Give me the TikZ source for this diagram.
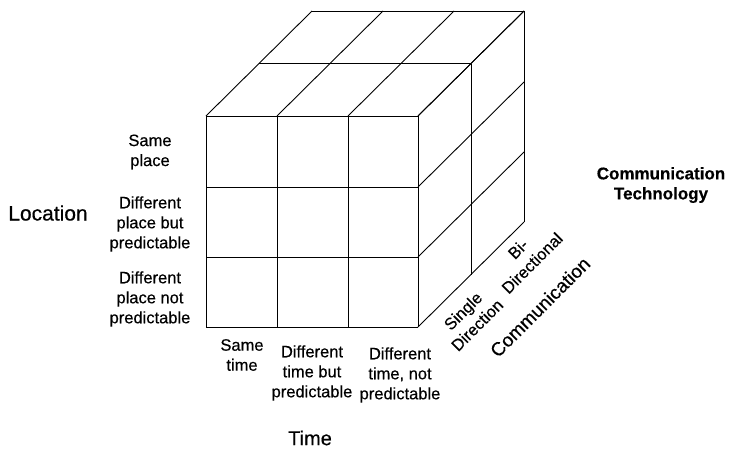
\documentclass[tikz,border=0pt]{standalone}
\usepackage{fontspec}
\setmainfont{Liberation Sans}[FakeBold=0.4]
\begin{document}
\begin{tikzpicture}[x=1pt,y=-1pt,
  cubeline/.style={line width=0.9pt, black},
  lab/.style={font=\fontsize{16.5}{20}\selectfont, align=center, inner sep=0pt},
  biglab/.style={font=\fontsize{21}{24}\selectfont, inner sep=0pt},
  rotlab/.style={font=\fontsize{16.5}{20}\selectfont, align=center, inner sep=0pt, rotate=45},
  titlelab/.style={font=\fontsize{17}{20}\selectfont\bfseries, align=center, inner sep=0pt}]
\useasboundingbox (0,0) rectangle (731,448);
% front face
\foreach \x in {206,277,348,418} \draw[cubeline] (\x,116) -- (\x,327);
\foreach \y in {116,187,257,327} \draw[cubeline] (206,\y) -- (418,\y);
% top face
\foreach \x in {206,277,348,418} \draw[cubeline] (\x,116) -- ++(106,-105);
\foreach \k in {1,2} \draw[cubeline] (206+53*\k,116-52.5*\k) -- ++(212,0);
% right face
\foreach \y in {116,187,257,327} \draw[cubeline] (418,\y) -- ++(106,-105);
\foreach \k in {1,2} \draw[cubeline] (418+53*\k,116-52.5*\k) -- ++(0,211);
% row labels
\node[lab] (r1) at (150,152) {Same\\place};
\node[lab] (r2) at (150,224) {Different\\place but\\predictable};
\node[lab] (r3) at (150,299) {Different\\place not\\predictable};
\node[biglab] (loc) at (48,213) {Location};
% column labels
\node[lab] (c1) at (242,355) {Same\\time};
\node[lab] (c2) at (312,373) {Different\\time but\\predictable};
\node[lab] (c3) at (400,375) {Different\\time, not\\predictable};
\node[biglab, font=\fontsize{20}{24}\selectfont] (time) at (310,438) {Time};
% depth labels
\node[rotlab] (d1) at (470,318) {Single\\Direction};
\node[rotlab] (d2) at (525,256) {Bi-\\Directional};
\node[biglab, font=\fontsize{19}{22}\selectfont, rotate=45] (comm) at (540,307) {Communication};
\node[titlelab] (tech) at (661,185) {Communication\\Technology};
\end{tikzpicture}
\end{document}
